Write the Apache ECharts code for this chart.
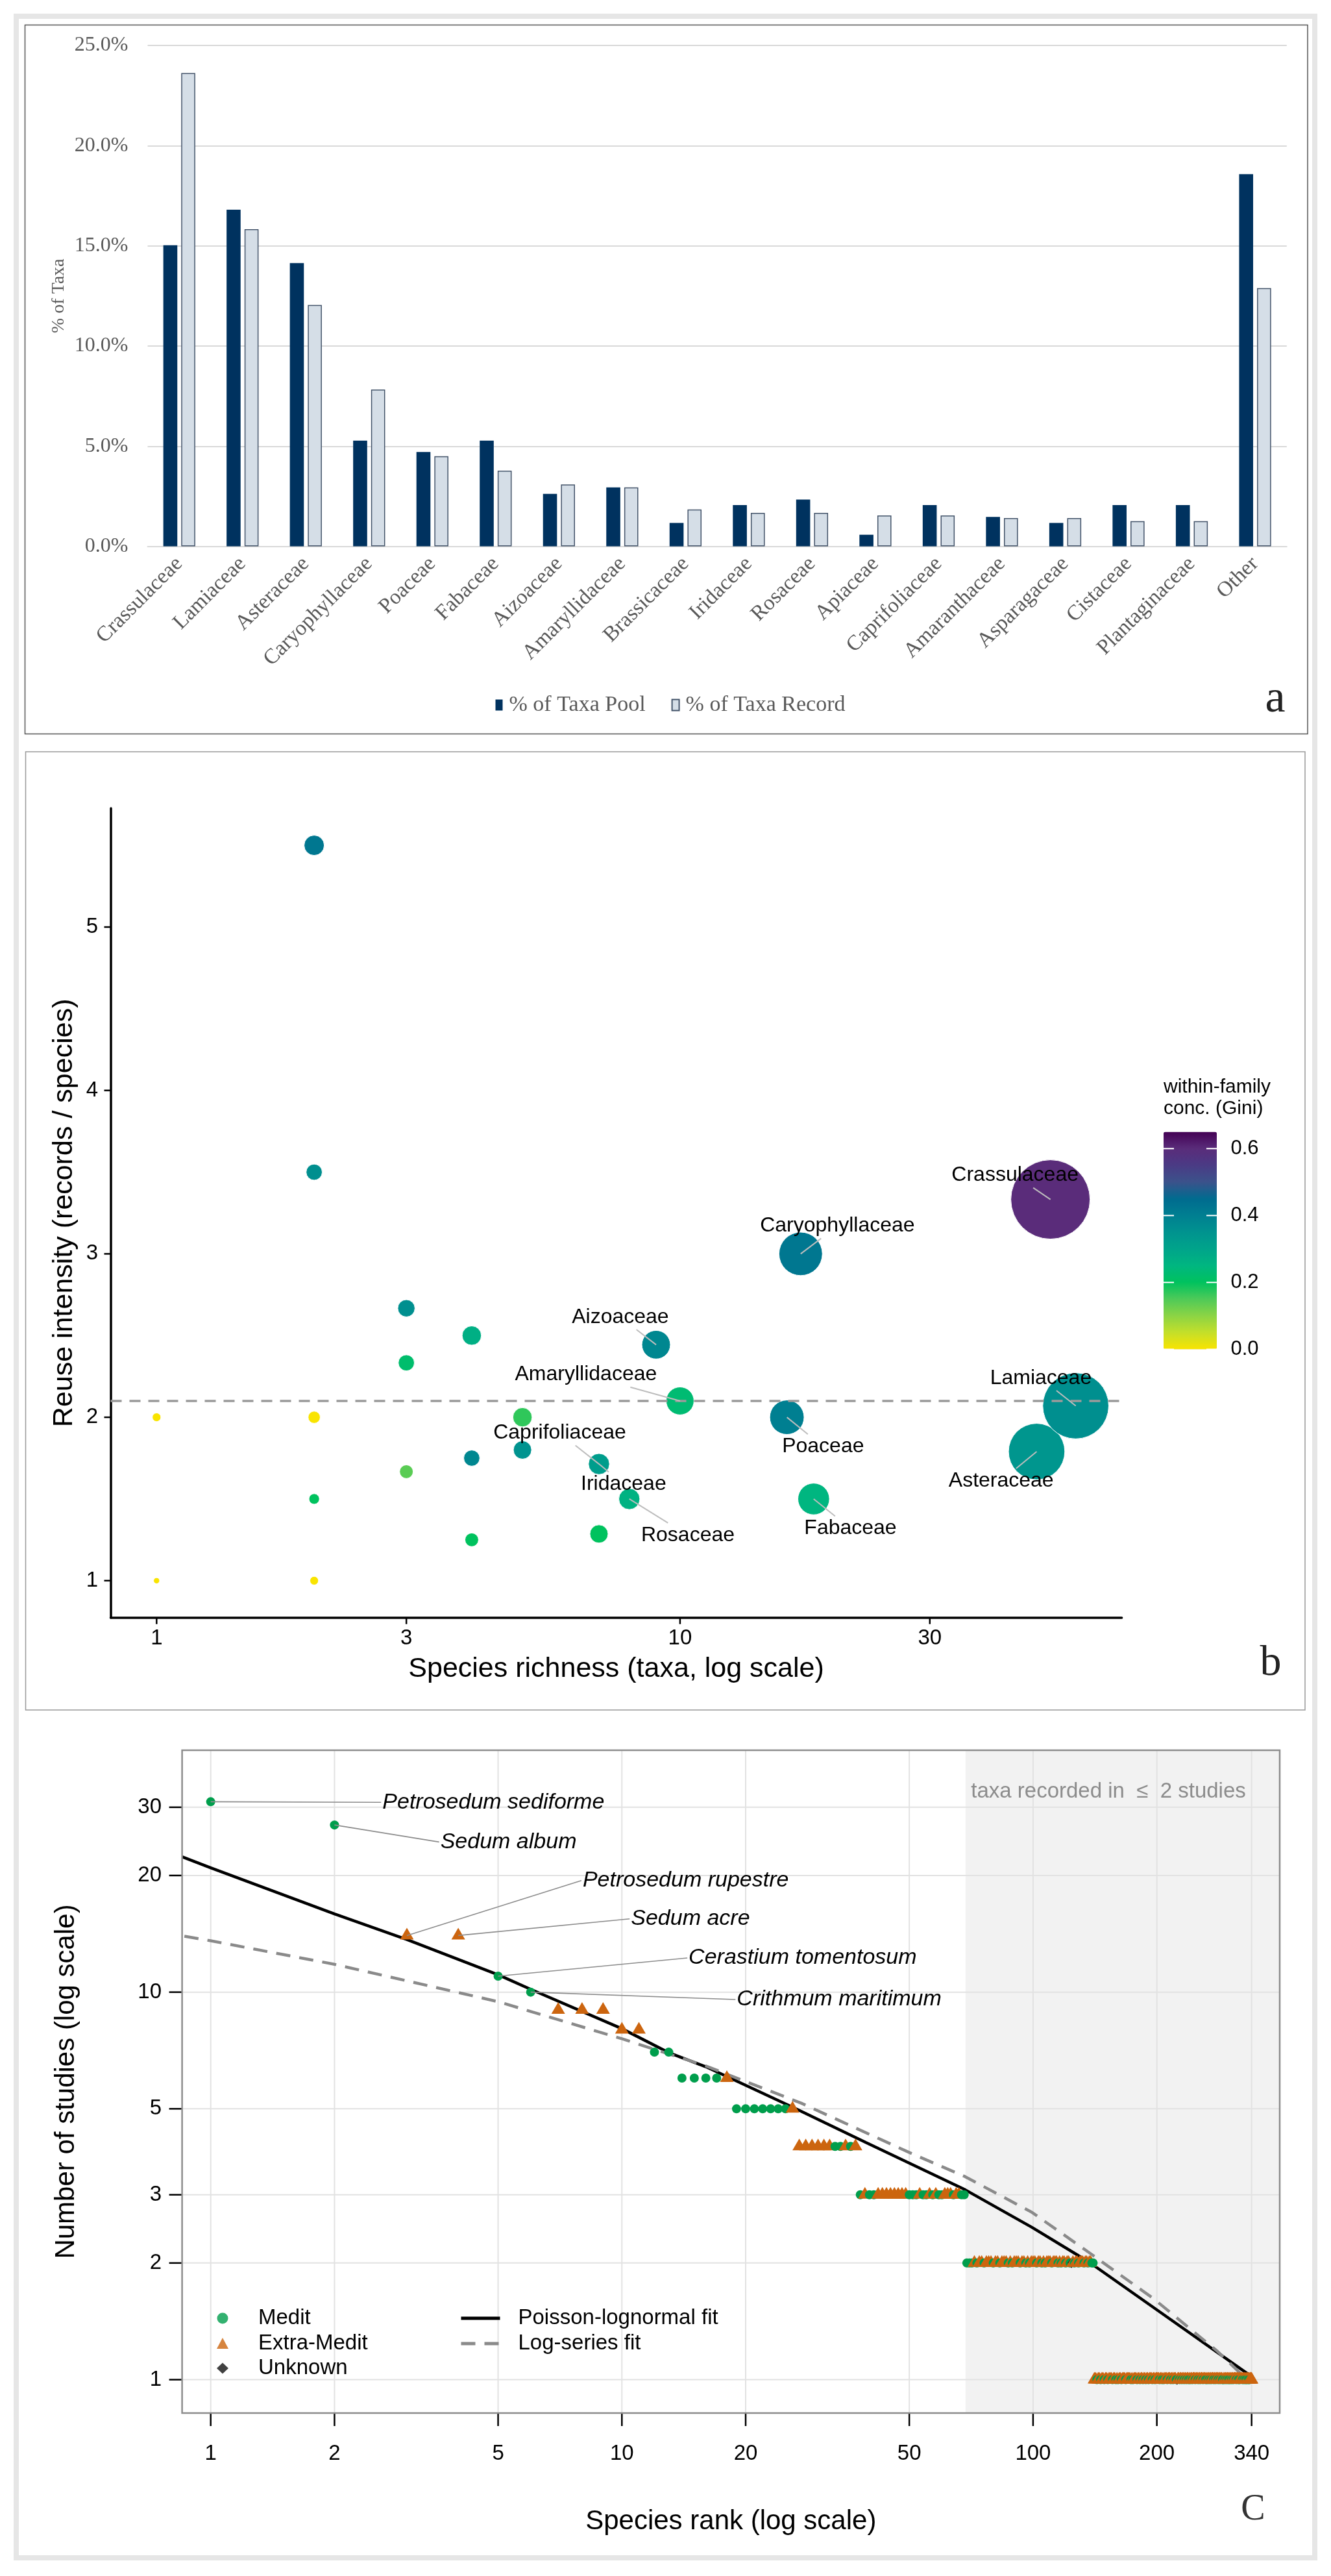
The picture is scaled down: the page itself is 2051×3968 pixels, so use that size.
<!DOCTYPE html>
<html><head><meta charset="utf-8">
<script src="https://cdn.jsdelivr.net/npm/echarts@6.0.0/dist/echarts.min.js"></script>
<style>html,body{margin:0;padding:0;background:#fff}#chart{width:2051px;height:3968px}</style>
</head><body><div id="chart"></div>
<script>
// ================= Panel a data =================
const families = ['Crassulaceae','Lamiaceae','Asteraceae','Caryophyllaceae','Poaceae','Fabaceae','Aizoaceae','Amaryllidaceae','Brassicaceae','Iridaceae','Rosaceae','Apiaceae','Caprifoliaceae','Amaranthaceae','Asparagaceae','Cistaceae','Plantaginaceae','Other'];
const pctTaxaPool   = [15.03,16.80,14.14,5.28,4.71,5.28,2.62,2.94,1.17,2.06,2.34,0.58,2.06,1.47,1.17,2.06,2.06,18.58];
const pctTaxaRecord = [23.62,15.83,12.05,7.83,4.50,3.78,3.09,2.94,1.84,1.67,1.67,1.54,1.54,1.41,1.41,1.26,1.26,12.89];

// ================= Panel b data =================
const bFamily    = ['','','','','','','','','','','','','','','','','Caprifoliaceae','Iridaceae','Rosaceae','Aizoaceae','Amaryllidaceae','Poaceae','Caryophyllaceae','Fabaceae','Asteraceae','Crassulaceae','Lamiaceae'];
const bRichness  = [1,1,2,2,2,2,2,3,3,3,4,4,4,5,5,7,7,7,8,9,10,16,17,18,48,51,57];
const bIntensity = [1.0,2.0,1.0,2.0,1.5,3.5,5.5,1.667,2.333,2.667,1.25,1.75,2.5,1.8,2.0,1.286,1.714,1.714,1.5,2.444,2.1,2.0,3.0,1.5,1.79,3.333,2.07];
const bGini      = [0,0,0,0,0.20,0.36,0.42,0.14,0.22,0.36,0.20,0.38,0.27,0.35,0.17,0.20,0.32,0.32,0.26,0.38,0.23,0.40,0.42,0.25,0.34,0.60,0.36];
const bLabelRichness  = [null,null,null,null,null,null,null,null,null,null,null,null,null,null,null,null,5.89,7.80,10.35,7.69,6.61,18.76,19.98,21.16,41.06,43.65,48.9];
const bLabelIntensity = [null,null,null,null,null,null,null,null,null,null,null,null,null,null,null,null,1.903,1.589,1.278,2.612,2.260,1.821,3.17,1.319,1.611,3.48,2.239];
const bMeanIntensity = 2.1;
const bXTicks = [1,3,10,30];
const bYTicks = [1,2,3,4,5];
const giniTicks = [0,0.2,0.4,0.6];
const giniTickLabels = ['0.0','0.2','0.4','0.6'];
const giniColors = ['#F9E400','#C4DF2A','#8CD444','#4ECA58','#00C25E','#00B680','#00A48A','#00938F','#007F91','#006B8F','#3B528B','#4A3B85','#5A2C7A','#440154'];

// ================= Panel c data =================
const studyLevels = [31,27,14,11,10,9,8,7,6,5,4,3,2,1];
const taxaAtLevel = [1,1,2,1,1,3,2,2,5,8,11,31,72,200];
const originByRank = [
  // ranks 1-37
  'MM','EE','MM','EEEEE','MM','MMMM','E','MMMMMMM','E','EEEEEE','MMEME',
  // ranks 38-68
  'MEMM','EEEEEEEE','MMM','E','MM','E','M','E','MM','EEE','M','EE','MM',
  // ranks 69-140
  'MMMEMEEMEE','EMEEMEEEME','MEEEMEEMEM','EEEMEEMEME','EEMEEEMEME','EMEEMUEMEE','MEEEMEEMEE','MM',
  // ranks 141-340
  'EEMEEMEEME','EMEEEMEEME','MEEMEEEMEE','EEMEMEEEME','EMEEMEEMEE','MEEEMEEMEE','EEMEEMEMEE','EMEEEMEEME','EEMUEEMEEM','EEMEEMEEME',
  'MEEMEEEMEE','EMEEMEEEME','EEMEMEEMEE','MEEEMEEMEE','EMEEMEEEMM','EEMEEMEEME','MEEMEEMEEE','EMEEEMEMEE','EEMEEMEEME','MEEMEMEEEE'
].join('');
const plnRank    = [0.852,1,2,3,5,6,10,13,16,26,39.3,68.4,99.5,128,139.7,199,335];
const plnStudies = [22.36,20.93,15.92,13.67,11.09,10.17,8.05,6.98,6.42,5.05,4.09,3.09,2.47,2.10,1.98,1.52,1.03];
const lsRank     = [0.863,1,2,5,10,16,27.3,50.2,68.4,99.5,137.5,196.5,280.7,335.6];
const lsStudies  = [13.94,13.57,11.8,9.45,7.58,6.45,5.17,3.85,3.34,2.70,2.12,1.617,1.184,0.987];
const cLabelNames = ['Petrosedum sediforme','Sedum album','Petrosedum rupestre','Sedum acre','Cerastium tomentosum','Crithmum maritimum'];
const cLabelRanks = [1,2,3,4,5,6];
const cLabelX = [2.616,3.62,8.03,10.52,14.53,19.03];
const cLabelY = [30.9,24.4,19.4,15.46,12.25,9.57];
const cXTicks = [1,2,5,10,20,50,100,200,340];
const cYTicks = [1,2,3,5,10,20,30];
const cShadeFromRank = 68.5;
const cShadeLabel = 'taxa recorded in  \u2264  2 studies';
const cShadeLabelAt = [152.5, 32.9];

// ================= helpers =================
const SANS = '"Liberation Sans", Arial, sans-serif';
const SERIF = '"Liberation Serif", "Times New Roman", serif';
const mctx = document.createElement('canvas').getContext('2d');
function textW(t, font){ mctx.font = font; return mctx.measureText(t).width; }

const bX = [0.817, 69.8], bY = [0.774, 5.727];
const cX = [0.852, 398], cY = [0.82, 42.1];

const originStyle = {
  M:{name:'Medit', symbol:'circle', size:14, color:'#009E4C', offset:[0,0]},
  E:{name:'Extra-Medit', symbol:'triangle', size:[21,18], color:'#CC650F', offset:[0,-3]},
  U:{name:'Unknown', symbol:'diamond', size:[12,16], color:'#111111', offset:[0,0]}
};

function tickSeries(gi, dim, values, labels, o){
  return {
    type:'custom', xAxisIndex:gi, yAxisIndex:gi, silent:true, z:6, animation:false,
    data: values.map(v => dim === 'x' ? [v, o.other] : [o.other, v]),
    renderItem: (params, api) => {
      const p = api.coord([api.value(0), api.value(1)]);
      const lbl = labels[params.dataIndex];
      if (dim === 'x') {
        return {type:'group', children:[
          {type:'line', shape:{x1:p[0], y1:p[1], x2:p[0], y2:p[1]+o.tickLen}, style:{stroke:'#000', lineWidth:o.tickW}},
          {type:'text', style:{x:p[0], y:p[1]+o.offset, text:lbl, font:o.font, fill:'#000', align:'center', verticalAlign:'middle'}}
        ]};
      }
      return {type:'group', children:[
        {type:'line', shape:{x1:p[0]-o.tickLen, y1:p[1], x2:p[0], y2:p[1]}, style:{stroke:'#000', lineWidth:o.tickW}},
        {type:'text', style:{x:p[0]-o.offset, y:p[1], text:lbl, font:o.font, fill:'#000', align:'right', verticalAlign:'middle'}}
      ]};
    }
  };
}

const cAll = [];
(function(){ let r = 1; studyLevels.forEach((s,i)=>{ for(let k=0;k<taxaAtLevel[i];k++){ cAll.push([r, s, originByRank[r-1] || 'M']); r++; } }); })();
const cPointItems = cAll.map(d => {
  const st = originStyle[d[2]];
  return {value:[d[0], d[1]], symbol:st.symbol, symbolSize:st.size, symbolOffset:st.offset, itemStyle:{color:st.color, opacity:1}};
});

const bLabIdx = bFamily.map((n,i)=>n ? i : -1).filter(i=>i>=0);
const bLabelFont = '32px ' + SANS;
const cLabelFont = 'italic 34px ' + SANS;
const noLabelAxis = {axisTick:{show:false}, axisLabel:{show:false}, splitLine:{show:false}};

function legendDummy(key){
  const st = originStyle[key];
  return {name:st.name, type:'scatter', xAxisIndex:2, yAxisIndex:2, data:[], symbol:st.symbol, symbolSize:st.size,
          itemStyle:{color:st.color}, silent:true};
}

const option = {
  animation:false,
  backgroundColor:'#ffffff',
  textStyle:{fontFamily:SANS},
  grid:[
    {left:227.5, right:68.2, top:70, bottom:3126.4, outerBoundsMode:'none'},
    {left:170.5, right:322.4, top:1245, bottom:1476.3, outerBoundsMode:'none'},
    {left:280.6, right:79, top:2696, bottom:251, outerBoundsMode:'none'},
    {left:1793, width:82, top:1743.5, height:335, outerBoundsMode:'none'}
  ],
  xAxis:[
    {gridIndex:0, type:'category', data:families,
     axisLine:{lineStyle:{color:'#D9D9D9', width:1.8}}, axisTick:{show:false},
     axisLabel:{rotate:45, interval:0, fontFamily:SERIF, fontSize:33, color:'#595959', margin:22}},
    Object.assign({gridIndex:1, type:'log', min:bX[0], max:bX[1],
     axisLine:{show:true, onZero:false, lineStyle:{color:'#000', width:3.5}},
     name:'Species richness (taxa, log scale)', nameLocation:'middle', nameGap:58, nameMoveOverlap:false,
     nameTextStyle:{fontFamily:SANS, fontSize:43, color:'#000'}}, noLabelAxis),
    Object.assign({gridIndex:2, type:'log', min:cX[0], max:cX[1], axisLine:{show:false},
     name:'Species rank (log scale)', nameLocation:'middle', nameGap:146, nameMoveOverlap:false,
     nameTextStyle:{fontFamily:SANS, fontSize:42, color:'#000'}}, noLabelAxis),
    {gridIndex:3, type:'value', min:0, max:1, show:false}
  ],
  yAxis:[
    {gridIndex:0, type:'value', min:0, max:25, interval:5,
     axisLine:{show:false}, axisTick:{show:false},
     axisLabel:{formatter:v=>v.toFixed(1)+'%', fontFamily:SERIF, fontSize:32, color:'#595959', margin:30},
     splitLine:{lineStyle:{color:'#D9D9D9', width:1.8}},
     name:'% of Taxa', nameLocation:'middle', nameGap:123, nameMoveOverlap:false,
     nameTextStyle:{fontFamily:SERIF, fontSize:28, color:'#595959'}},
    Object.assign({gridIndex:1, type:'value', min:bY[0], max:bY[1],
     axisLine:{show:true, onZero:false, lineStyle:{color:'#000', width:3.5}},
     name:'Reuse intensity (records / species)', nameLocation:'middle', nameGap:50, nameMoveOverlap:false,
     nameTextStyle:{fontFamily:SANS, fontSize:43, color:'#000'}}, noLabelAxis),
    Object.assign({gridIndex:2, type:'log', min:cY[0], max:cY[1], axisLine:{show:false},
     name:'Number of studies (log scale)', nameLocation:'middle', nameGap:157, nameMoveOverlap:false,
     nameTextStyle:{fontFamily:SANS, fontSize:42, color:'#000'}}, noLabelAxis),
    {gridIndex:3, type:'value', min:0, max:0.65, show:false}
  ],
  legend:[
    {data:['% of Taxa Pool','% of Taxa Record'], left:763.5, top:1068, orient:'horizontal', padding:0,
     itemWidth:11, itemHeight:17, itemGap:40, icon:'rect', selectedMode:false,
     textStyle:{fontFamily:SERIF, fontSize:34, color:'#595959', lineHeight:36, padding:[0,0,0,5]}},
    {data:[{name:'Medit', icon:'circle'},{name:'Extra-Medit', icon:'triangle'},{name:'Unknown', icon:'diamond'}],
     left:334, top:3553, orient:'vertical', padding:0, itemWidth:18, itemHeight:17, itemGap:2.5, selectedMode:false,
     textStyle:{fontFamily:SANS, fontSize:33, color:'#000', lineHeight:36, padding:[0,0,0,41]}},
    {data:['Poisson-lognormal fit','Log-series fit'], left:708, top:3553, orient:'vertical', padding:0,
     itemWidth:60, itemHeight:17, itemGap:3, selectedMode:false,
     itemStyle:{opacity:0}, lineStyle:{width:5},
     textStyle:{fontFamily:SANS, fontSize:33, color:'#000', lineHeight:36, padding:[0,0,0,23]}}
  ],
  visualMap:[{
    type:'continuous', seriesIndex:2, dimension:2, min:0, max:0.65,
    inRange:{color:giniColors}, show:true, calculable:false, hoverLink:false,
    left:1793, top:1743.5, itemWidth:82, itemHeight:335, padding:0, text:null
  }],
  graphic:[
    {type:'rect', z:-5, shape:{x:25, y:25, width:2001, height:3915}, style:{fill:'none', stroke:'#E6E6E6', lineWidth:8}},
    {type:'rect', z:-5, shape:{x:38.5, y:38.5, width:1976.5, height:1092}, style:{fill:'none', stroke:'#555', lineWidth:1.5}},
    {type:'rect', z:-5, shape:{x:39.5, y:1158, width:1971.5, height:1476}, style:{fill:'none', stroke:'#999', lineWidth:1.5}},
    {type:'rect', z:100, shape:{x:280.6, y:2696, width:1691.4, height:1021}, style:{fill:'none', stroke:'#8C8C8C', lineWidth:2.5}},
    {type:'text', x:1965, y:1078, style:{text:'a', font:'70px '+SERIF, fill:'#222', align:'center', verticalAlign:'middle'}},
    {type:'text', x:1958, y:2563, style:{text:'b', font:'66px '+SERIF, fill:'#222', align:'center', verticalAlign:'middle'}},
    {type:'text', x:1931, y:3866, style:{text:'C', font:'56px '+SERIF, fill:'#333', align:'center', verticalAlign:'middle'}},
    {type:'text', x:1793, y:1658.5, style:{text:'within-family\nconc. (Gini)', font:'30px '+SANS, lineHeight:33, fill:'#000', align:'left', verticalAlign:'top'}}
  ],
  series:[
    {name:'% of Taxa Pool', type:'bar', xAxisIndex:0, yAxisIndex:0, data:pctTaxaPool, barWidth:21.6, barGap:'28%',
     itemStyle:{color:'#00325F'}, emphasis:{disabled:true}, silent:true},
    {name:'% of Taxa Record', type:'bar', xAxisIndex:0, yAxisIndex:0, data:pctTaxaRecord, barWidth:21.6, barGap:'28%',
     itemStyle:{color:'#D5DEE7', borderColor:'#44546A', borderWidth:1.5}, emphasis:{disabled:true}, silent:true},
    // 2 panel b bubbles
    {type:'scatter', xAxisIndex:1, yAxisIndex:1, z:3, silent:true,
     data: bRichness.map((x,i)=>[x, bIntensity[i], bGini[i]]),
     symbolSize: v => 9.36*Math.sqrt(v[0]*v[1]),
     itemStyle:{borderColor:'#ffffff', borderWidth:1, opacity:1}, emphasis:{disabled:true}},
    // 3 mean line
    {type:'line', xAxisIndex:1, yAxisIndex:1, data:[], z:1, silent:true,
     markLine:{silent:true, symbol:['none','none'], label:{show:false}, animation:false,
       lineStyle:{color:'#9A9A9A', type:[17,12], width:3.5}, emphasis:{disabled:true},
       data:[{yAxis:bMeanIntensity}]}},
    // 4 panel b labels
    {type:'custom', xAxisIndex:1, yAxisIndex:1, z:5, silent:true,
     data: bLabIdx.map(i=>[bRichness[i], bIntensity[i], bLabelRichness[i], bLabelIntensity[i]]),
     renderItem:(params, api)=>{
       const name = bFamily[bLabIdx[params.dataIndex]];
       const p = api.coord([api.value(0), api.value(1)]);
       const l = api.coord([api.value(2), api.value(3)]);
       const hw = textW(name, bLabelFont)/2 + 3, hh = 19;
       const dx = p[0]-l[0], dy = p[1]-l[1];
       const tx = Math.abs(dx) > 1e-6 ? hw/Math.abs(dx) : Infinity;
       const ty = Math.abs(dy) > 1e-6 ? hh/Math.abs(dy) : Infinity;
       const t = Math.min(tx, ty);
       const ch = [];
       if (t < 1) ch.push({type:'line', shape:{x1:p[0], y1:p[1], x2:l[0]+dx*t, y2:l[1]+dy*t}, style:{stroke:'#BDBDBD', lineWidth:2}});
       ch.push({type:'text', style:{x:l[0], y:l[1], text:name, font:bLabelFont, fill:'#000', align:'center', verticalAlign:'middle'}});
       return {type:'group', children:ch};
     }},
    tickSeries(1,'x', bXTicks, bXTicks.map(String), {other:bY[0], tickLen:10, tickW:2.5, offset:32, font:'33px '+SANS}),
    tickSeries(1,'y', bYTicks, bYTicks.map(String), {other:bX[0], tickLen:10, tickW:2.5, offset:19.5, font:'33px '+SANS}),
    // panel c shaded region
    {type:'custom', xAxisIndex:2, yAxisIndex:2, z:1, silent:true,
     data:[[cShadeFromRank, cY[1], cX[1], cY[0]]],
     renderItem:(params, api)=>{
       const a = api.coord([api.value(0), api.value(1)]);
       const b = api.coord([api.value(2), api.value(3)]);
       return {type:'rect', shape:{x:a[0], y:a[1], width:b[0]-a[0], height:b[1]-a[1]}, style:{fill:'#F2F2F2'}};
     }},
    // panel c gridlines
    {type:'custom', xAxisIndex:2, yAxisIndex:2, z:2, silent:true,
     data: cXTicks.map(v=>[v, cY[0], 0]).concat(cYTicks.map(v=>[cX[0], v, 1])),
     renderItem:(params, api)=>{
       const k = api.value(2);
       let a, b;
       if (k === 0) { a = api.coord([api.value(0), cY[0]]); b = api.coord([api.value(0), cY[1]]); }
       else { a = api.coord([cX[0], api.value(1)]); b = api.coord([cX[1], api.value(1)]); }
       return {type:'line', shape:{x1:a[0], y1:a[1], x2:b[0], y2:b[1]}, style:{stroke:'#E2E2E2', lineWidth:2}};
     }},
    // shade label
    {type:'custom', xAxisIndex:2, yAxisIndex:2, z:6, silent:true,
     data:[cShadeLabelAt],
     renderItem:(params, api)=>{
       const p = api.coord([api.value(0), api.value(1)]);
       return {type:'text', style:{x:p[0], y:p[1], text:cShadeLabel, font:'33px '+SANS, fill:'#8C8C8C', align:'center', verticalAlign:'middle'}};
     }},
    // fits
    {name:'Poisson-lognormal fit', type:'line', xAxisIndex:2, yAxisIndex:2, z:3, silent:true, showSymbol:false, symbol:'none',
     data: plnRank.map((r,i)=>[r, plnStudies[i]]), lineStyle:{color:'#000', width:4.5}, itemStyle:{color:'#000'}, emphasis:{disabled:true}},
    {name:'Log-series fit', type:'line', xAxisIndex:2, yAxisIndex:2, z:3, silent:true, showSymbol:false, symbol:'none',
     data: lsRank.map((r,i)=>[r, lsStudies[i]]), lineStyle:{color:'#8A8A8A', width:4.5, type:[22,14]}, itemStyle:{color:'#8A8A8A'}, emphasis:{disabled:true}},
    // points drawn in rank order
    {type:'scatter', xAxisIndex:2, yAxisIndex:2, z:4, silent:true, data:cPointItems, emphasis:{disabled:true}},
    legendDummy('M'), legendDummy('E'), legendDummy('U'),
    // panel c labels
    {type:'custom', xAxisIndex:2, yAxisIndex:2, z:5, silent:true,
     data: cLabelRanks.map((r,i)=>[r, cAll[r-1][1], cLabelX[i], cLabelY[i]]),
     renderItem:(params, api)=>{
       const name = cLabelNames[params.dataIndex];
       const p = api.coord([api.value(0), api.value(1)]);
       const l = api.coord([api.value(2), api.value(3)]);
       return {type:'group', children:[
         {type:'line', shape:{x1:p[0], y1:p[1], x2:l[0]-2, y2:l[1]}, style:{stroke:'#8C8C8C', lineWidth:1.6}},
         {type:'text', style:{x:l[0], y:l[1], text:name, font:cLabelFont, fill:'#000', align:'left', verticalAlign:'middle'}}
       ]};
     }},
    tickSeries(2,'x', cXTicks, cXTicks.map(String), {other:cY[0], tickLen:20, tickW:2.5, offset:63, font:'33px '+SANS}),
    tickSeries(2,'y', cYTicks, cYTicks.map(String), {other:cX[0], tickLen:20, tickW:2.5, offset:31.6, font:'33px '+SANS}),
    // colorbar ticks and labels
    {type:'custom', xAxisIndex:3, yAxisIndex:3, z:20, silent:true,
     data: giniTicks.map(v=>[0, v]),
     renderItem:(params, api)=>{
       const a = api.coord([0, api.value(1)]);
       const b = api.coord([1, api.value(1)]);
       return {type:'group', children:[
         {type:'line', shape:{x1:a[0], y1:a[1], x2:a[0]+16, y2:a[1]}, style:{stroke:'#fff', lineWidth:2}},
         {type:'line', shape:{x1:b[0]-16, y1:b[1], x2:b[0], y2:b[1]}, style:{stroke:'#fff', lineWidth:2}},
         {type:'text', style:{x:b[0]+21.4, y:b[1], text:giniTickLabels[params.dataIndex], font:'31px '+SANS, fill:'#000', align:'left', verticalAlign:'middle'}}
       ]};
     }}
  ]
};

const chart = echarts.init(document.getElementById('chart'), null, {renderer:'canvas', width:2051, height:3968});
chart.setOption(option);
</script>
</body></html>
